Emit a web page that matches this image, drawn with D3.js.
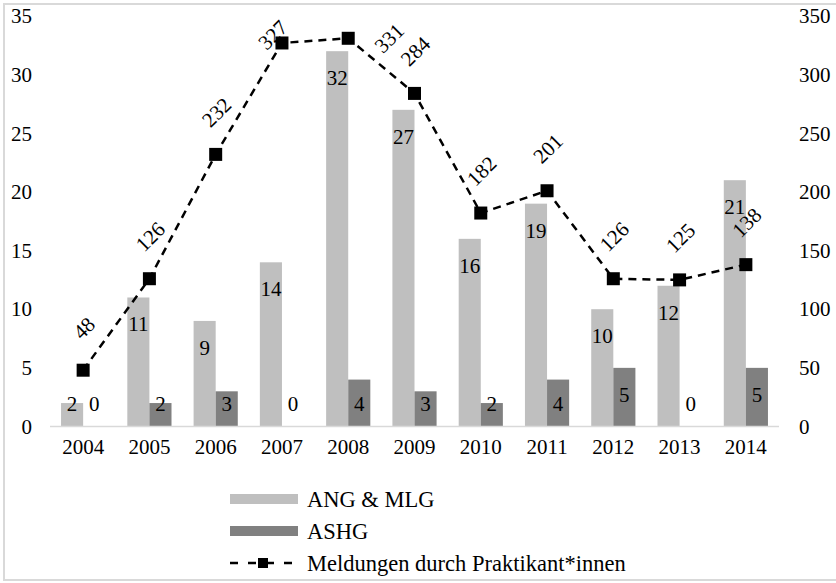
<!DOCTYPE html>
<html>
<head>
<meta charset="utf-8">
<script src="https://cdn.jsdelivr.net/npm/d3@7"></script>
<style>
  html, body { margin: 0; padding: 0; background: #fff; }
  svg { display: block; }
</style>
</head>
<body>
<svg id="chart" width="836" height="583"></svg>
<script>
// Jahre und Werte
const years = ["2004","2005","2006","2007","2008","2009","2010","2011","2012","2013","2014"];
const angMlg = [2, 11, 9, 14, 32, 27, 16, 19, 10, 12, 21];
const ashg = [0, 2, 3, 0, 4, 3, 2, 4, 5, 0, 5];
const meldungen = [48, 126, 232, 327, 331, 284, 182, 201, 126, 125, 138];
const leftTicks = [0, 5, 10, 15, 20, 25, 30, 35];
const rightTicks = [0, 50, 100, 150, 200, 250, 300, 350];
const seriesNames = ["ANG & MLG", "ASHG", "Meldungen durch Praktikant*innen"];

const lightGray = "#bfbfbf";
const darkGray = "#808080";
const fontSize = 21;
const legendFontSize = 22.5;
const fontFamily = "Liberation Serif";

const svg = d3.select("#chart");

// einheitliche Schrift für alle Texte
function styleText(sel, size = fontSize) {
  sel.style("font-family", fontFamily).style("font-size", size + "px").attr("fill", "#000");
}

// Rahmen
svg.append("rect")
  .attr("x", 4).attr("y", 4).attr("width", 834).attr("height", 576)
  .attr("fill", "none").attr("stroke", "#d9d9d9").attr("stroke-width", 2);

const plot = { left: 50, right: 779, top: 16, bottom: 426.5 };

const x = d3.scaleBand().domain(years).range([plot.left, plot.right]).padding(0);
const yL = d3.scaleLinear().domain([0, 35]).range([plot.bottom, plot.top]);
const yR = d3.scaleLinear().domain([0, 350]).range([plot.bottom, plot.top]);
const barW = x.bandwidth() / 3;

// Linke Achse
const leftAxis = d3.axisLeft(yL).tickValues(leftTicks).tickSize(0).tickPadding(0);
const gL = svg.append("g").attr("transform", `translate(32,0)`).call(leftAxis);
gL.select(".domain").remove();
gL.selectAll("text").call(styleText).attr("dy", "0.32em");

// Rechte Achse
const rightAxis = d3.axisRight(yR).tickValues(rightTicks).tickSize(0).tickPadding(0);
const gR = svg.append("g").attr("transform", `translate(799,0)`).call(rightAxis);
gR.select(".domain").remove();
gR.selectAll("text").call(styleText).attr("dy", "0.32em");

// Balken ANG & MLG
svg.append("g").selectAll("rect").data(years).join("rect")
  .attr("x", d => x(d) + x.bandwidth() / 2 - barW)
  .attr("y", (d, i) => yL(angMlg[i]))
  .attr("width", barW)
  .attr("height", (d, i) => yL(0) - yL(angMlg[i]))
  .attr("fill", lightGray);

// Balken ASHG
svg.append("g").selectAll("rect").data(years).join("rect")
  .attr("x", d => x(d) + x.bandwidth() / 2)
  .attr("y", (d, i) => yL(ashg[i]))
  .attr("width", barW)
  .attr("height", (d, i) => yL(0) - yL(ashg[i]))
  .attr("fill", darkGray);

// Grundlinie
svg.append("line")
  .attr("x1", plot.left).attr("x2", plot.right)
  .attr("y1", plot.bottom).attr("y2", plot.bottom)
  .attr("stroke", "#d9d9d9").attr("stroke-width", 1.5);

// X-Achsenbeschriftung
const bottomAxis = d3.axisBottom(x).tickSize(0).tickPadding(0);
const gB = svg.append("g").attr("transform", `translate(0,${plot.bottom + 12})`).call(bottomAxis);
gB.select(".domain").remove();
gB.selectAll("text").call(styleText).attr("dy", "0.75em");

// Balkenbeschriftungen (innen, oben)
const barLabelY = v => Math.min(yL(v) + 27, plot.bottom - 23);
svg.append("g").selectAll("text").data(years).join("text")
  .attr("x", d => x(d) + x.bandwidth() / 2 - barW / 2)
  .attr("y", (d, i) => barLabelY(angMlg[i]))
  .attr("text-anchor", "middle").attr("dominant-baseline", "central")
  .call(styleText)
  .text((d, i) => angMlg[i]);
svg.append("g").selectAll("text").data(years).join("text")
  .attr("x", d => x(d) + x.bandwidth() / 2 + barW / 2)
  .attr("y", (d, i) => barLabelY(ashg[i]))
  .attr("text-anchor", "middle").attr("dominant-baseline", "central")
  .call(styleText)
  .text((d, i) => ashg[i]);

// Linie Meldungen
const pts = years.map((d, i) => [x(d) + x.bandwidth() / 2, yR(meldungen[i])]);
svg.append("path")
  .attr("d", d3.line()(pts))
  .attr("fill", "none").attr("stroke", "#000")
  .attr("stroke-width", 2.5).attr("stroke-dasharray", "8,6");
svg.append("g").selectAll("rect").data(pts).join("rect")
  .attr("x", p => p[0] - 6.5).attr("y", p => p[1] - 6.5)
  .attr("width", 13).attr("height", 13).attr("fill", "#000");

// Linienbeschriftungen, um 45° gedreht
const labelShift = { "2007": [-10, 34], "2008": [40, 42] };
svg.append("g").selectAll("text").data(years).join("text")
  .attr("transform", (d, i) => {
    const s = labelShift[d] || [0, 0];
    const cx = pts[i][0] + 1 + s[0];
    const cy = pts[i][1] - 42 + s[1];
    return `translate(${cx},${cy}) rotate(-45)`;
  })
  .attr("text-anchor", "middle").attr("dominant-baseline", "central")
  .call(styleText)
  .text((d, i) => meldungen[i]);

// Legende
const lg = svg.append("g");
const rows = [499, 531, 563];
lg.append("rect").attr("x", 230).attr("y", rows[0] - 5).attr("width", 68).attr("height", 10).attr("fill", lightGray);
lg.append("rect").attr("x", 230).attr("y", rows[1] - 5).attr("width", 68).attr("height", 10).attr("fill", darkGray);
lg.append("line").attr("x1", 230).attr("x2", 298).attr("y1", rows[2]).attr("y2", rows[2])
  .attr("stroke", "#000").attr("stroke-width", 2.5).attr("stroke-dasharray", "8,10");
lg.append("rect").attr("x", 258).attr("y", rows[2] - 5).attr("width", 10).attr("height", 10).attr("fill", "#000");
lg.selectAll("text").data(seriesNames).join("text")
  .attr("x", 307).attr("y", (d, i) => rows[i])
  .attr("dominant-baseline", "central")
  .call(styleText, legendFontSize)
  .text(d => d);
</script>
</body>
</html>
